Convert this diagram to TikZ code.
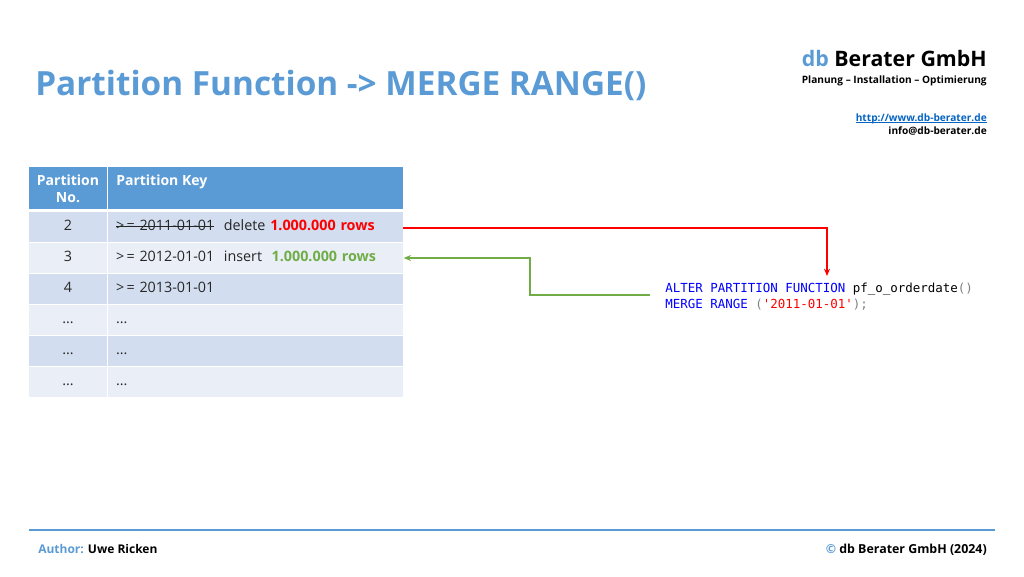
\documentclass[tikz,border=0pt]{standalone}
\usepackage{fontspec}
\setmainfont{Open Sans}
\setmonofont{DejaVu Sans Mono}
\usetikzlibrary{arrows.meta}

\definecolor{dbblue}{HTML}{5B9BD5}
\definecolor{rowdark}{HTML}{D2DEEF}
\definecolor{rowlight}{HTML}{EAEFF7}
\definecolor{dbgreen}{HTML}{70AD47}
\definecolor{dblink}{HTML}{0563C1}
\definecolor{sqlblue}{HTML}{0000FF}
\definecolor{sqlgray}{HTML}{808080}
\definecolor{txtdark}{HTML}{262626}

\newcommand{\strk}[1]{\sbox0{#1}\rlap{\rule[2.8pt]{\wd0}{0.5pt}}\box0}
\newcommand{\undr}[1]{\sbox0{#1}\rlap{\rule[-1.3pt]{\wd0}{0.5pt}}\box0}
\newcommand{\ddd}{.\kern0pt.\kern0pt.}

\tikzset{
  cellno/.style={minimum width=58.9pt,inner sep=0pt,text=txtdark,font=\fontsize{10.75}{12}\selectfont,
    text height=8.2pt,text depth=2.8pt},
  cellkey/.style={minimum width=221.25pt,inner sep=0pt,text=txtdark,font=\fontsize{10.75}{12}\selectfont,
    text width=209.25pt,align=left,text height=8.2pt,text depth=2.8pt},
  headtxt/.style={text=white,font=\fontsize{10.5}{12.8}\selectfont\bfseries},
  flow/.style={line width=1.1pt,-{Stealth[length=5.5pt,width=4.5pt]}},
  brand/.style={inner sep=0pt,anchor=east,font=\fontsize{7.6}{9}\selectfont\bfseries},
}

\begin{document}
\begin{tikzpicture}[x=0.75pt,y=-0.75pt]

  \useasboundingbox (0,0) rectangle (1024,576);

  \node[inner sep=0pt,anchor=west,text=dbblue,font=\fontsize{25}{28}\selectfont\bfseries] (title) at (35,85)
    {Partition Function -> MERGE RANGE()};

  \node[brand,font=\fontsize{16}{18}\selectfont\bfseries] (firm) at (987,58) {\textcolor{dbblue}{db} Berater GmbH};
  \node[brand] (slogan) at (987,80.5) {Planung – Installation – Optimierung};
  \node[brand,text=dblink] (web) at (987,118.5) {\undr{http://www.db-berater.de}};
  \node[brand] (mail) at (987,131) {info@db-berater.de};

  % table head
  \node[fill=dbblue,minimum width=58.5pt,minimum height=31.5pt,inner sep=0pt,anchor=north west] (headno) at (29,167) {};
  \node[fill=dbblue,minimum width=221.25pt,minimum height=31.5pt,inner sep=0pt,anchor=north west] (headkey) at (108,167) {};
  \node[headtxt,align=center,inner sep=0pt,anchor=north] at (68,174.5) (headnotxt) {Partition\\No.};
  \node[headtxt,inner sep=0pt,anchor=north west] at (116,174.5) (headkeytxt) {Partition Key};

  % table rows
  \foreach \nr/\ya/\colr/\no/\key in {
    2/226.5/rowdark/2/{\strk{>\,= 2011-01-01}\ \ delete \textcolor{red}{\bfseries 1.000.000 rows}},
    3/257.5/rowlight/3/{>\,= 2012-01-01\ \ insert\ \ \textcolor{dbgreen}{\bfseries 1.000.000 rows}},
    4/288.5/rowdark/4/{>\,= 2013-01-01},
    5/319.5/rowlight/{\ddd}/{\ddd},
    6/350.5/rowdark/{\ddd}/{\ddd},
    7/381.5/rowlight/{\ddd}/{\ddd}}{
    \node[cellno,fill=\colr,minimum height=22.5pt] (no\nr) at (68,\ya) {\no};
    \node[cellkey,fill=\colr,minimum height=22.5pt] (key\nr) at (255.5,\ya) {\key};
  }

  \node[inner sep=0pt,anchor=north west,align=left,font=\fontsize{9.35}{12}\selectfont\ttfamily] (code) at (665,282.5)
    {\textcolor{sqlblue}{ALTER PARTITION FUNCTION} \textcolor{black}{pf\_o\_orderdate}\textcolor{sqlgray}{()}\\
     \textcolor{sqlblue}{MERGE RANGE} \textcolor{sqlgray}{(}\textcolor{red}{'2011-01-01'}\textcolor{sqlgray}{);}};

  \coordinate (redend) at (827,276);
  \coordinate (greenstart) at (650,295);
  \coordinate (greenmid) at (530,258);

  \draw[flow,red] ([yshift=-1.125pt]key2.east) -| (redend);
  \draw[flow,dbgreen] (greenstart) -| (greenmid) -- ([xshift=0.3pt]greenmid -| key3.east);

  % footer
  \coordinate (footl) at (29,529.5);
  \coordinate (footr) at (995,529.5);
  \draw[dbblue,line width=1.5pt] (footl) -- (footr);
  \node[inner sep=0pt,anchor=west,font=\fontsize{9}{10}\selectfont\bfseries] (author) at (38,549.5)
    {\textcolor{dbblue}{Author:} Uwe Ricken};
  \node[inner sep=0pt,anchor=east,font=\fontsize{9.3}{10}\selectfont\bfseries] (copy) at (987,549.5)
    {\textcolor{dbblue}{©} db Berater GmbH (2024)};

\end{tikzpicture}
\end{document}
